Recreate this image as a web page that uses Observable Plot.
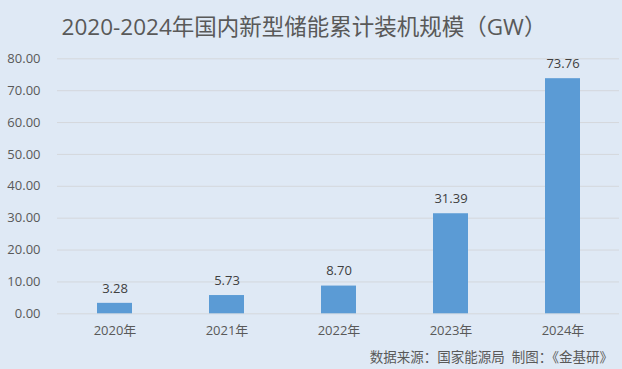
<!DOCTYPE html>
<html>
<head>
<meta charset="utf-8">
<script src="https://cdn.jsdelivr.net/npm/d3@7"></script>
<script src="https://cdn.jsdelivr.net/npm/@observablehq/plot@0.6"></script>
<style>
  html, body { margin: 0; padding: 0; }
  body { width: 622px; height: 369px; background: #dfe9f5; position: relative; overflow: hidden;
         font-family: "Open Sans", "Noto Sans CJK SC", sans-serif; }
  #title { position: absolute; left: 0; width: 608px; top: 12px; text-align: center;
           font-size: 22.5px; color: #595959; line-height: 30px; white-space: nowrap; }
  #chart { position: absolute; left: 0; top: 0; }
  #caption { position: absolute; right: 9px; top: 347px; font-size: 13.5px; color: #595959;
             line-height: 20px; white-space: nowrap; }
</style>
</head>
<body>
<div id="chart"></div>
<div id="title">2020-2024年国内新型储能累计装机规模（GW）</div>
<div id="caption">数据来源：国家能源局&nbsp;&nbsp;制图：《金基研》</div>
<script>
const years = ["2020年", "2021年", "2022年", "2023年", "2024年"];
const values = [3.28, 5.73, 8.70, 31.39, 73.76];
const yTicks = [0, 10, 20, 30, 40, 50, 60, 70, 80];

const data = years.map((y, i) => ({year: y, value: values[i]}));

const chart = Plot.plot({
  width: 622,
  height: 369,
  marginLeft: 57,
  marginRight: 3,
  marginTop: 58.3,
  marginBottom: 55.7,
  style: {background: "transparent", fontFamily: "'Open Sans', 'Noto Sans CJK SC', sans-serif", fontSize: "13px", color: "#595959"},
  x: {domain: years, paddingInner: 0.69, paddingOuter: 0.345, label: null},
  y: {domain: [0, 80], label: null},
  marks: [
    Plot.gridY(yTicks, {stroke: "#d4d8dc", strokeOpacity: 1, strokeWidth: 1}),
    Plot.barY(data, {x: "year", y: "value", fill: "#5b9bd5"}),
    Plot.text(data, {x: "year", y: "value", text: d => d.value.toFixed(2), dy: -15, fill: "#404040", fontSize: 13}),
    Plot.axisY(yTicks, {tickSize: 0, tickPadding: 17, tickFormat: d => d.toFixed(2), fill: "#595959", fontSize: 13, label: null}),
    Plot.axisX({tickSize: 0, tickPadding: 12, fill: "#595959", fontSize: 13, label: null})
  ]
});
document.getElementById("chart").appendChild(chart);
</script>
</body>
</html>
